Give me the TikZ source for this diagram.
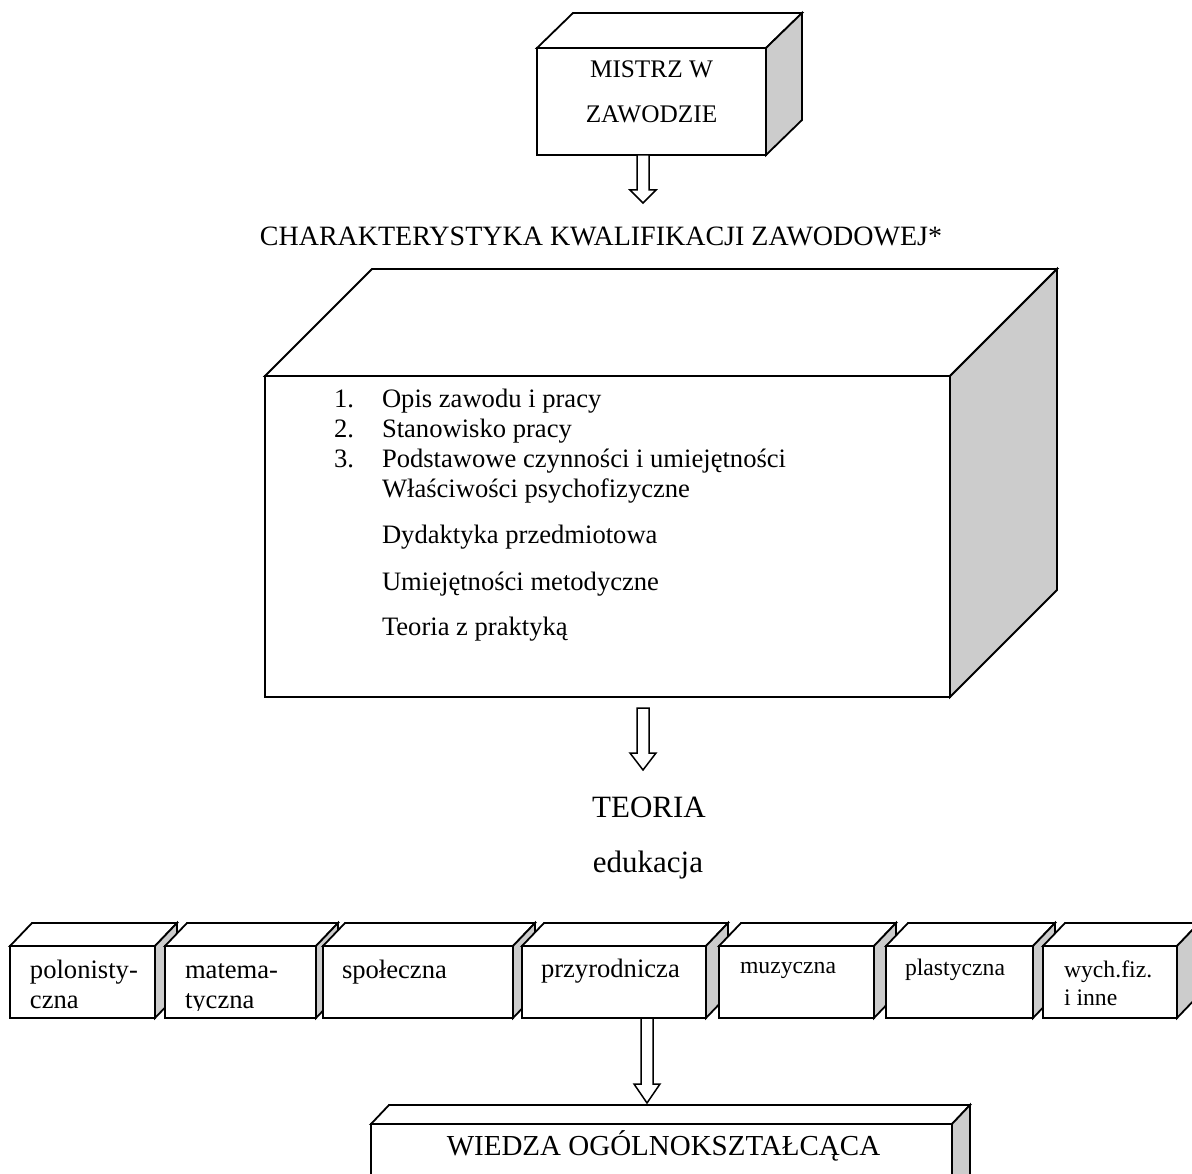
\documentclass[tikz,border=0pt]{standalone}
\usepackage{fontspec}
\setmainfont{Liberation Serif}
\usetikzlibrary{calc}
\newcommand{\myfs}[1]{\fontsize{#1}{#1}\selectfont}
\tikzset{
  face/.style={draw=black, line width=1.8pt, line join=miter, fill=white},
  sideface/.style={draw=black, line width=1.8pt, line join=miter, fill=black!20},
  txt/.style={inner sep=0pt, outer sep=0pt, anchor=base west},
  ctxt/.style={inner sep=0pt, outer sep=0pt, anchor=base},
  blockarrow/.style={draw=black, line width=1.5pt, fill=white, line join=miter},
}
% #1 name, #2 x1, #3 y1, #4 x2, #5 y2, #6 dx, #7 dy
\newcommand{\mybox}[7]{%
  \node[face, anchor=north west, inner sep=0pt, outer sep=0pt,
        minimum width={(#4-#2)*1pt}, minimum height={(#5-#3)*1pt}] (#1) at (#2,#3) {};
  \draw[face] (#1.north west) -- ++(#6,-#7) -- ($(#1.north east)+(#6,-#7)$) -- (#1.north east) -- cycle;
  \draw[sideface] (#1.north east) -- ++(#6,-#7) -- ($(#1.south east)+(#6,-#7)$) -- (#1.south east) -- cycle;
}
% #1 start coordinate, #2 tip coordinate, #3 head length
\newcommand{\blockarr}[3]{%
  \draw[blockarrow] ($(#1)+(-6,0)$) -- ($(#2)+(-6,-#3)$) -- ($(#2)+(-13,-#3)$) -- (#2)
     -- ($(#2)+(13,-#3)$) -- ($(#2)+(6,-#3)$) -- ($(#1)+(6,0)$) -- cycle;
}
\begin{document}
\begin{tikzpicture}[x=1pt, y=-1pt]
\useasboundingbox (0,0) rectangle (1192,1174);
\clip (0,0) rectangle (1192,1174);

% top box
\mybox{mistrz}{537}{48}{766}{155}{36}{35}
\node[ctxt, font=\myfs{25.3}] (m1) at (651.5,78) {MISTRZ W};
\node[ctxt, font=\myfs{25.3}] (m2) at (651.5,123) {ZAWODZIE};

\coordinate (a1s) at (643,155);
\coordinate (a1e) at (643,203);
\blockarr{a1s}{a1e}{13}

\node[ctxt, font=\myfs{28}] (title) at (601,246) {CHARAKTERYSTYKA KWALIFIKACJI ZAWODOWEJ*};

% big box
\mybox{kw}{265}{376}{950}{697}{107}{107}
\begin{scope}[every node/.style={txt, font=\myfs{26.6}}]
\node (n1) at (334,407) {1.};
\node (n2) at (334,437) {2.};
\node (n3) at (334,467) {3.};
\node (l1) at (382,407) {Opis zawodu i pracy};
\node (l2) at (382,437) {Stanowisko pracy};
\node (l3) at (382,467) {Podstawowe czynności i umiejętności};
\node (l4) at (382,497) {Właściwości psychofizyczne};
\node (l5) at (382,543) {Dydaktyka przedmiotowa};
\node (l6) at (382,590) {Umiejętności metodyczne};
\node (l7) at (382,635) {Teoria z praktyką};
\end{scope}

\coordinate (a2s) at (643,708);
\coordinate (a2e) at (643,770);
\blockarr{a2s}{a2e}{17}

\node[ctxt, font=\myfs{31}] (teoria) at (649,817) {TEORIA};
\node[ctxt, font=\myfs{31}] (edu) at (648,872) {edukacja};

% subject boxes
\mybox{b1}{10}{946}{155}{1018}{22}{23}
\node[txt, font=\myfs{26.6}] (t1a) at (30,978) {polonisty-};
\node[txt, font=\myfs{26.6}] (t1b) at (30,1008) {czna};
\mybox{b2}{165}{946}{316}{1018}{22}{23}
\node[txt, font=\myfs{26.6}] (t2a) at (185,978) {matema-};
\begin{scope}
\clip (165,980) rectangle (316,1010);
\node[txt, font=\myfs{26.6}] (t2b) at (185,1008) {tyczna};
\end{scope}
\mybox{b3}{323}{946}{513}{1018}{22}{23}
\node[txt, font=\myfs{26.6}] (t3) at (342,978) {społeczna};
\mybox{b4}{522}{946}{706}{1018}{22}{23}
\node[txt, font=\myfs{26.6}] (t4) at (541,977) {przyrodnicza};
\mybox{b5}{719}{946}{874}{1018}{22}{23}
\node[txt, font=\myfs{23.7}] (t5) at (740,973) {muzyczna};
\mybox{b6}{886}{946}{1033}{1018}{22}{23}
\node[txt, font=\myfs{23.7}] (t6) at (905,975) {plastyczna};
\mybox{b7}{1043}{946}{1177}{1018}{22}{23}
\node[txt, font=\myfs{23.7}] (t7a) at (1064,977) {wych.fiz.};
\node[txt, font=\myfs{23.7}] (t7b) at (1064,1005) {i inne};

\coordinate (a3s) at (647,1018);
\coordinate (a3e) at (647,1103);
\blockarr{a3s}{a3e}{19}

% bottom box
\mybox{wiedza}{371}{1124}{952}{1200}{18}{19}
\node[ctxt, font=\myfs{29}] (wt) at (663.5,1155) {WIEDZA OGÓLNOKSZTAŁCĄCA};
\end{tikzpicture}
\end{document}
